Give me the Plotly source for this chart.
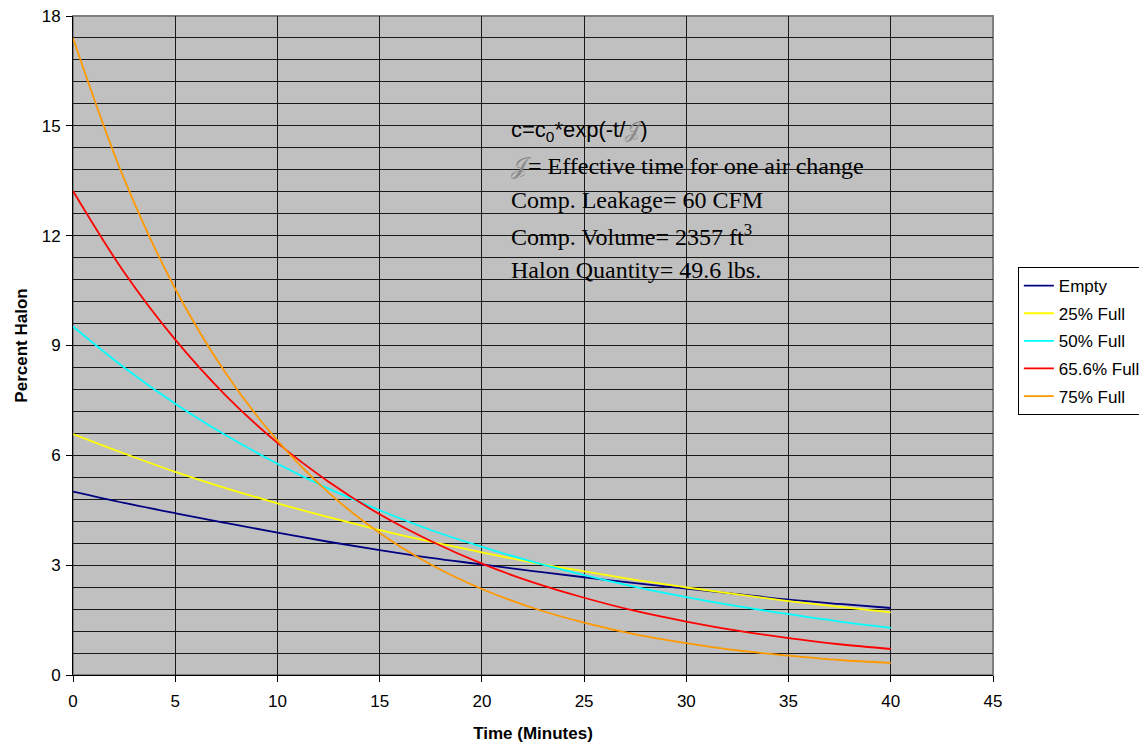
import plotly.graph_objects as go

# time in minutes
minutes = [0, 2.5, 5, 7.5, 10, 12.5, 15, 17.5, 20, 22.5, 25, 27.5, 30, 32.5, 35, 37.5, 40]

# percent halon
empty = [5.01, 4.70, 4.42, 4.15, 3.89, 3.64, 3.41, 3.20, 3.02, 2.84, 2.67, 2.51, 2.36, 2.21, 2.06, 1.94, 1.83]
full_25 = [6.58, 6.05, 5.55, 5.10, 4.69, 4.31, 3.96, 3.64, 3.35, 3.07, 2.83, 2.60, 2.39, 2.20, 2.02, 1.86, 1.71]
full_50 = [9.52, 8.40, 7.41, 6.54, 5.77, 5.09, 4.50, 3.96, 3.50, 3.09, 2.73, 2.41, 2.13, 1.88, 1.66, 1.46, 1.29]
full_656 = [13.22, 11.00, 9.16, 7.62, 6.34, 5.28, 4.39, 3.66, 3.04, 2.53, 2.11, 1.75, 1.46, 1.21, 1.01, 0.84, 0.71]
full_75 = [17.4, 13.55, 10.55, 8.22, 6.40, 4.98, 3.88, 3.02, 2.35, 1.83, 1.43, 1.11, 0.87, 0.67, 0.53, 0.41, 0.33]

series = [
    ("Empty", empty, "#000080"),
    ("25% Full", full_25, "#FFFF00"),
    ("50% Full", full_50, "#00FFFF"),
    ("65.6% Full", full_656, "#FF0000"),
    ("75% Full", full_75, "#FF9900"),
]

notes = [
    "c=c<sub>0</sub>*exp(-t/<span style='color:#8a8a8a'>𝒥</span>)",
    "<span style='color:#8a8a8a'>𝒥</span>= Effective time for one air change",
    "Comp. Leakage= 60 CFM",
    "Comp. Volume= 2357 ft<sup>3</sup>",
    "Halon Quantity= 49.6 lbs.",
]
note_y = [14.86, 13.89, 12.98, 12.02, 11.07]

fig = go.Figure()
for name, vals, color in series:
    fig.add_trace(go.Scatter(
        x=minutes, y=vals, name=name, mode="lines", legendgroup=name,
        line=dict(color=color, width=1.8, shape="spline"),
    ))

for i, (txt, yy) in enumerate(zip(notes, note_y)):
    if i == 0:
        f = dict(family="Liberation Sans, Arial", size=22, color="black")
    else:
        f = dict(family="Liberation Serif, Times New Roman", size=24, color="black")
    fig.add_annotation(
        x=21.35, y=yy, xref="x", yref="y", text=txt, showarrow=False,
        xanchor="left", yanchor="middle", font=f,
    )

# grey frame on top/right of plot area
fig.add_shape(type="rect", xref="paper", yref="paper", x0=0, y0=0, x1=1, y1=1,
              line=dict(color="#808080", width=2), layer="below")

fig.update_layout(
    width=1139, height=737,
    margin=dict(l=65, r=154, t=8, b=70, autoexpand=False),
    paper_bgcolor="white",
    plot_bgcolor="#C0C0C0",
    font=dict(family="Liberation Sans, Arial", size=17, color="black"),
    legend=dict(
        x=1.027, y=0.619, xanchor="left", yanchor="top",
        bordercolor="black", borderwidth=1, bgcolor="white",
        font=dict(size=17), tracegroupgap=2.5,
    ),
    showlegend=True,
)
fig.update_xaxes(
    range=[0, 45], dtick=5, tick0=0, automargin=False,
    showgrid=True, gridcolor="#1a1a1a", gridwidth=1,
    showline=True, linecolor="black", linewidth=1,
    ticks="outside", ticklen=6, tickcolor="black", ticklabelstandoff=5,
    zeroline=False,
    title=dict(text="<b>Time (Minutes)</b>", font=dict(size=17), standoff=16),
)
fig.update_yaxes(
    range=[0, 18], dtick=3, tick0=0, automargin=False,
    ticklabeloverflow="allow",
    showgrid=True, gridcolor="#1a1a1a", gridwidth=1,
    minor=dict(dtick=0.6, showgrid=True, gridcolor="#1a1a1a", gridwidth=1),
    showline=True, linecolor="black", linewidth=1,
    ticks="outside", ticklen=6, tickcolor="black", ticklabelstandoff=2,
    zeroline=False,
    title=dict(text="<b>Percent Halon</b>", font=dict(size=17), standoff=9),
)

fig.write_html("out.html")
